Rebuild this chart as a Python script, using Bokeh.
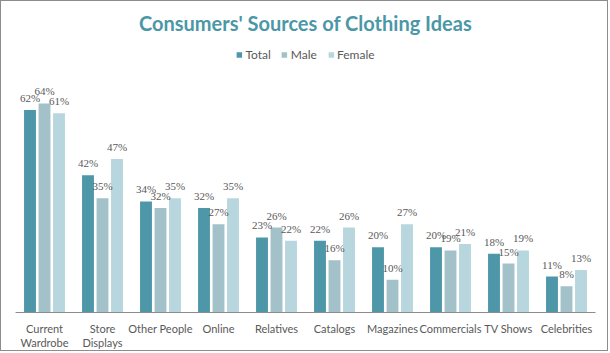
from bokeh.plotting import figure
from bokeh.models import ColumnDataSource, LabelSet, Legend, LegendItem, FactorRange, Range1d
from bokeh.transform import dodge
from bokeh.embed import file_html
from bokeh.resources import INLINE

categories = ["Current\nWardrobe", "Store\nDisplays", "Other People", "Online", "Relatives",
              "Catalogs", "Magazines", "Commercials", "TV Shows", "Celebrities"]
total = [62, 42, 34, 32, 23, 22, 20, 20, 18, 11]
male = [64, 35, 32, 27, 26, 16, 10, 19, 15, 8]
female = [61, 47, 35, 35, 22, 26, 27, 21, 19, 13]
series_names = ["Total", "Male", "Female"]
colors = ["#4e97a8", "#a3c1c9", "#b8d6dd"]

source = ColumnDataSource(data=dict(
    cat=categories,
    Total=total, Male=male, Female=female,
    Total_lbl=[f"{v}%" for v in total],
    Male_lbl=[f"{v}%" for v in male],
    Female_lbl=[f"{v}%" for v in female],
))

FONT = "Lato"
TXT = "#595959"

p = figure(width=608, height=351, x_range=FactorRange(*categories),
           y_range=Range1d(0, 84.2), output_backend="svg", toolbar_location=None,
           min_border_left=14, min_border_right=14, min_border_top=36, min_border_bottom=40,
           title="Consumers' Sources of Clothing Ideas")
p.styles = {"border": "1px solid #8c8c8c"}
p.x_range.range_padding = 0
p.title.align = "center"
p.title.text_font = FONT
p.title.text_font_size = "20px"
p.title.text_font_style = "bold"
p.title.text_color = "#4b97a7"
p.title.standoff = 6
p.outline_line_color = None
p.xgrid.grid_line_color = None
p.ygrid.grid_line_color = None
p.yaxis.visible = False
p.xaxis.axis_line_color = "#8c8c8c"
p.xaxis.major_tick_line_color = None
p.xaxis.minor_tick_line_color = None
p.xaxis.major_label_text_font = FONT
p.xaxis.major_label_text_font_size = "11px"
p.xaxis.major_label_text_color = TXT
p.xaxis.major_label_text_line_height = 1.15
p.xaxis.major_label_standoff = 3

offsets = [-0.25, 0.0, 0.25]
items = []
for name, col, off in zip(series_names, colors, offsets):
    r = p.vbar(x=dodge("cat", off, range=p.x_range), top=name, width=0.205,
               source=source, fill_color=col, line_color=None)
    items.append(LegendItem(label=name, renderers=[r]))
    lbl = LabelSet(x=dodge("cat", off, range=p.x_range), y=name, text=name + "_lbl",
                   source=source, text_align="center", text_baseline="middle",
                   y_offset=12, text_font_size="11px", text_color=TXT, text_font=FONT)
    p.add_layout(lbl)

legend = Legend(items=items, orientation="horizontal", location="top_center",
                border_line_color=None, background_fill_alpha=0,
                glyph_width=7, glyph_height=7, label_standoff=3, spacing=10,
                label_text_font=FONT, label_text_font_size="12px", label_text_color=TXT,
                margin=10, padding=4)
p.add_layout(legend)

open("out.html", "w").write(file_html(p, INLINE))
